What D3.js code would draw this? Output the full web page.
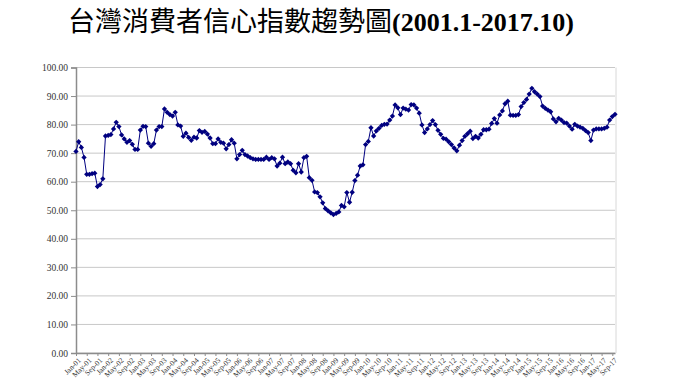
<!DOCTYPE html>
<html>
<head>
<meta charset="utf-8">
<script src="https://cdn.jsdelivr.net/npm/d3@7"></script>
<style>
  body { margin: 0; background: #fff; }
  svg { display: block; }
</style>
</head>
<body>
<svg id="chart"></svg>
<script>
const width = 680;
const height = 382;

// -----------------------------
// DATA
// -----------------------------
const titleCn = "台灣消費者信心指數趨勢圖";
const titleNum = "(2001.1-2017.10)";

const startYear = 2001;
const monthNames = ["Jan", "Feb", "Mar", "Apr", "May", "Jun", "Jul", "Aug", "Sep", "Oct", "Nov", "Dec"];
const yTicks = [0, 10, 20, 30, 40, 50, 60, 70, 80, 90, 100];

const cci2001 = [70.6, 74.0, 72.0, 68.5, 62.6, 62.6, 62.8, 63.0, 58.3, 59.0, 61.0, 76.0];
const cci2002 = [76.2, 76.5, 78.5, 80.8, 79.3, 76.4, 75.0, 73.8, 74.4, 73.1, 71.3, 71.3];
const cci2003 = [78.1, 79.4, 79.3, 73.5, 72.4, 73.3, 78.1, 79.3, 79.3, 85.5, 84.3, 83.5];
const cci2004 = [83.0, 84.3, 79.9, 79.5, 75.9, 77.0, 75.5, 74.5, 75.6, 75.3, 77.9, 77.3];
const cci2005 = [77.6, 76.7, 75.3, 73.3, 73.3, 75.0, 73.8, 73.5, 71.5, 73.0, 74.7, 73.5];
const cci2006 = [68.0, 69.5, 71.0, 69.5, 69.0, 68.4, 68.0, 67.8, 67.8, 67.8, 67.8, 68.6];
const cci2007 = [67.8, 68.4, 68.0, 65.5, 66.5, 68.6, 66.3, 66.9, 66.3, 64.0, 63.1, 66.3];
const cci2008 = [63.4, 68.4, 68.9, 61.4, 60.5, 56.4, 56.2, 54.7, 52.6, 50.6, 49.8, 49.1];
const cci2009 = [48.5, 48.9, 49.4, 51.7, 51.2, 56.2, 52.8, 56.3, 60.4, 62.3, 65.5, 65.9];
const cci2010 = [73.0, 74.1, 78.9, 76.0, 77.8, 78.7, 79.7, 80.1, 80.2, 81.6, 83.0, 86.9];
const cci2011 = [85.9, 83.5, 85.8, 85.4, 85.1, 87.0, 86.9, 85.8, 84.0, 79.9, 77.2, 78.5];
const cci2012 = [80.0, 81.4, 80.0, 78.0, 76.6, 75.2, 74.9, 74.0, 73.0, 71.8, 70.8, 72.8];
const cci2013 = [74.4, 75.9, 76.8, 77.7, 75.1, 75.9, 75.3, 76.6, 78.2, 78.2, 78.4, 80.4];
const cci2014 = [82.1, 80.5, 83.4, 84.8, 87.3, 88.2, 83.3, 83.2, 83.2, 83.5, 86.3, 87.7];
const cci2015 = [88.8, 90.7, 92.7, 91.5, 90.7, 89.8, 86.5, 85.7, 85.1, 84.5, 82.0, 81.0];
const cci2016 = [82.2, 81.6, 80.7, 80.5, 79.5, 78.4, 80.1, 79.5, 79.1, 78.7, 77.9, 77.2];
const cci2017 = [74.4, 78.1, 78.5, 78.5, 78.5, 78.7, 79.1, 81.6, 82.8, 83.6];

const cci = [].concat(
  cci2001, cci2002, cci2003, cci2004, cci2005, cci2006, cci2007, cci2008, cci2009,
  cci2010, cci2011, cci2012, cci2013, cci2014, cci2015, cci2016, cci2017
);

const monthLabel = i =>
  monthNames[i % 12] + "-" + String((startYear + Math.floor(i / 12)) % 100).padStart(2, "0");

// -----------------------------
// SETUP
// -----------------------------
const margin = { top: 67.5, right: 65, bottom: 29, left: 76 };
const innerW = width - margin.left - margin.right;
const innerH = height - margin.top - margin.bottom;

const svg = d3.select("#chart")
  .attr("width", width)
  .attr("height", height);

const x = d3.scaleLinear()
  .domain([0, cci.length - 1])
  .range([margin.left, margin.left + innerW]);

const y = d3.scaleLinear()
  .domain([0, 100])
  .range([margin.top + innerH, margin.top]);

// -----------------------------
// TITLE
// -----------------------------
const title = svg.append("text")
  .attr("x", 68)
  .attr("y", 31)
  .attr("fill", "#000");

title.append("tspan")
  .style("font-family", "'Noto Sans CJK TC', 'Noto Sans CJK SC', sans-serif")
  .style("font-size", "27px")
  .style("font-weight", "400")
  .text(titleCn);

title.append("tspan")
  .style("font-family", "'Liberation Serif', 'Times New Roman', serif")
  .style("font-size", "26px")
  .style("font-weight", "bold")
  .text(titleNum);

// -----------------------------
// GRID + FRAME
// -----------------------------
svg.append("g")
  .selectAll("line")
  .data(yTicks)
  .join("line")
  .attr("x1", margin.left)
  .attr("x2", margin.left + innerW)
  .attr("y1", d => y(d))
  .attr("y2", d => y(d))
  .attr("stroke", "#c8c8c8")
  .attr("stroke-width", 1);

svg.append("line")
  .attr("x1", margin.left + innerW + 1)
  .attr("x2", margin.left + innerW + 1)
  .attr("y1", y(100))
  .attr("y2", y(0))
  .attr("stroke", "#d8d8d8")
  .attr("stroke-width", 1);

// -----------------------------
// AXES
// -----------------------------
const yAxis = svg.append("g")
  .attr("transform", `translate(${margin.left},0)`)
  .call(d3.axisLeft(y).tickValues(yTicks).tickFormat(d3.format(".2f")).tickSize(5).tickPadding(3));

yAxis.select(".domain").attr("stroke", "#8c8c8c").attr("stroke-width", 1.5);
yAxis.selectAll(".tick line").attr("stroke", "#8c8c8c");
yAxis.selectAll("text")
  .attr("fill", "#333")
  .style("font-family", "'Liberation Serif', 'Times New Roman', serif")
  .style("font-size", "9.5px");

const xTicks = d3.range(0, cci.length, 4);

const xAxis = svg.append("g")
  .attr("transform", `translate(0,${y(0)})`)
  .call(d3.axisBottom(x).tickValues(xTicks).tickFormat(monthLabel).tickSize(3).tickSizeOuter(0));

xAxis.select(".domain").attr("stroke", "#8c8c8c").attr("stroke-width", 1.5);
xAxis.selectAll(".tick line").attr("stroke", "#8c8c8c");
xAxis.selectAll("text")
  .attr("fill", "#333")
  .attr("y", 0)
  .attr("dy", "0.35em")
  .attr("transform", "translate(3,6) rotate(-45)")
  .style("text-anchor", "end")
  .style("font-family", "'Liberation Serif', 'Times New Roman', serif")
  .style("font-size", "7.5px");

// -----------------------------
// LINE + MARKERS
// -----------------------------
const line = d3.line()
  .x((d, i) => x(i))
  .y(d => y(d));

svg.append("path")
  .datum(cci)
  .attr("fill", "none")
  .attr("stroke", "#000080")
  .attr("stroke-width", 1)
  .attr("d", line);

svg.append("g")
  .selectAll("path")
  .data(cci)
  .join("path")
  .attr("d", d3.symbol(d3.symbolSquare, 14))
  .attr("transform", (d, i) => `translate(${x(i)},${y(d)}) rotate(45)`)
  .attr("fill", "#000080");
</script>
</body>
</html>
